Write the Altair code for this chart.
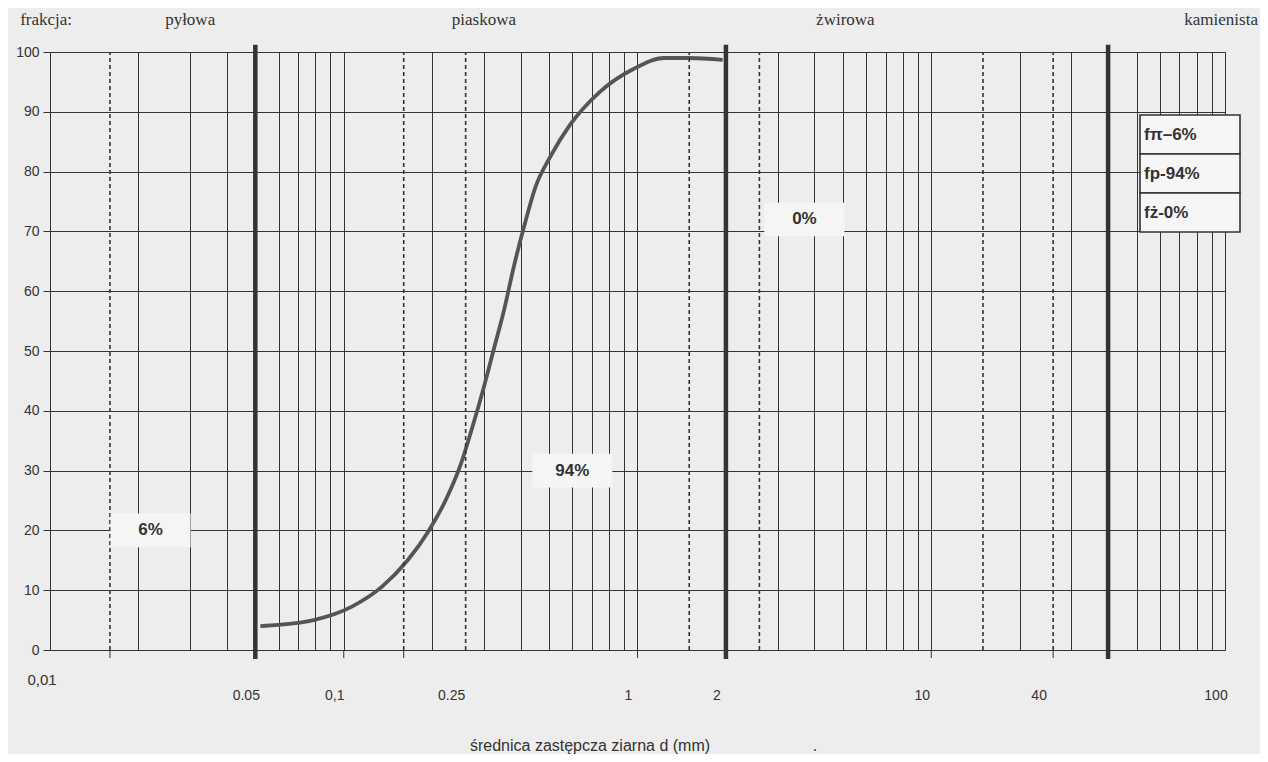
import altair as alt
import pandas as pd

# ---------------- data ----------------
curve_d = [0.052, 0.060, 0.079, 0.107, 0.135, 0.165, 0.195, 0.222, 0.25, 0.275,
           0.30, 0.325, 0.352, 0.378, 0.411, 0.45, 0.505, 0.589, 0.743, 0.972,
           1.23, 1.5, 1.95]
curve_p = [4.0, 4.2, 5.0, 7.3, 10.6, 15.0, 20.0, 25.0, 31.0, 37.5,
           44.0, 50.5, 57.0, 63.8, 70.8, 77.5, 82.5, 87.8, 93.3, 97.2,
           99.0, 99.0, 98.7]

grid_solid = [0.01, 0.02, 0.03, 0.04, 0.05, 0.06, 0.07, 0.08, 0.09,
              0.1, 0.2, 0.3, 0.4, 0.5, 0.6, 0.7, 0.8, 0.9,
              1, 2, 3, 4, 5, 6, 7, 8, 9,
              10, 20, 30, 40, 50, 60, 70, 80, 90, 100]
grid_dashed = [0.016, 0.16, 0.26, 1.5, 2.6, 15, 26]
fraction_limits = [0.05, 2, 40]
small_ticks = [0.016, 0.1, 0.16, 1, 2, 10, 26]

y_ticks = [0, 10, 20, 30, 40, 50, 60, 70, 80, 90, 100]

tick_text = ["0.05", "0,1", "0.25", "1", "2", "10", "40", "100"]
tick_anchor = [0.05, 0.1, 0.25, 1, 2, 10, 25, 100]
first_tick_text = ["0,01"]
first_tick_anchor = [0.01]

header_text = ["frakcja:", "pyłowa", "piaskowa", "żwirowa", "kamienista"]
header_anchor = [0.0097, 0.03, 0.3, 5.1, 97]

share_text = ["6%", "94%", "0%"]
share_d = [0.022, 0.6, 3.7]
share_p = [20, 30, 72]

legend_text = ["fπ–6%", "fp-94%", "fż-0%"]

x_title = "średnica zastępcza ziarna d (mm)"

# ---------------- layout ----------------
W, H = 1175, 598
INK = "#333333"
BG = "#ededed"
BOX = "#f5f5f5"
SANS = "Liberation Sans"
SERIF = "Liberation Serif"

xs = alt.Scale(type="log", domain=[0.01, 100], nice=False)
ys = alt.Scale(domain=[0, 100], nice=False)
xaxis = alt.Axis(values=grid_solid, grid=True, gridColor=INK, gridWidth=1, gridOpacity=1,
                 labels=False, ticks=False, domain=False, title=None)
yaxis = alt.Axis(values=y_ticks, grid=True, gridColor=INK, gridWidth=1, gridOpacity=1,
                 domain=False, tickSize=7, tickColor=INK, labelFont=SANS, labelFontSize=14,
                 labelColor=INK, labelPadding=4, title=None)


def X(f="d"):
    return alt.X(f"{f}:Q", scale=xs, axis=xaxis)


def Y(f="p"):
    return alt.Y(f"{f}:Q", scale=ys, axis=yaxis)


curve_df = pd.DataFrame({"d": curve_d, "p": curve_p})
curve = alt.Chart(curve_df).mark_line(color="#555555", strokeWidth=3.8,
                                      interpolate="monotone").encode(x=X(), y=Y())

dashed = alt.Chart(pd.DataFrame({"d": grid_dashed})).mark_rule(
    color=INK, strokeWidth=1.6, strokeDash=[4, 3]).encode(
    x=X(), y=alt.datum(0, scale=ys), y2=alt.datum(100))

thick = alt.Chart(pd.DataFrame({"d": fraction_limits})).mark_rule(
    color=INK, strokeWidth=4.5).encode(
    x=X(), y=alt.datum(-1.5, scale=ys), y2=alt.datum(101.2))

ticks = alt.Chart(pd.DataFrame({"d": small_ticks})).mark_rule(
    color=INK, strokeWidth=1).encode(x=X(), y=alt.value(H), y2=alt.value(H + 8))

share_df = pd.DataFrame({"t": share_text, "d": share_d, "p": share_p})
share_box = alt.Chart(share_df).mark_point(
    shape="M-1,-0.42H1V0.42H-1Z", filled=True, fill=BOX, opacity=1, size=6400,
    strokeWidth=0).encode(x=X(), y=Y())
share_lbl = alt.Chart(share_df).mark_text(
    font=SANS, fontSize=17, fontWeight="bold", color=INK).encode(x=X(), y=Y(), text="t:N")

header = alt.Chart(pd.DataFrame({"t": header_text, "d": header_anchor})).mark_text(
    font=SERIF, fontSize=17, color=INK, baseline="middle").encode(
    x=X(), y=alt.value(-32), text="t:N")

tick_lbl = alt.Chart(pd.DataFrame({"t": tick_text, "d": tick_anchor})).mark_text(
    font=SANS, fontSize=14, color=INK, dx=-9, baseline="middle").encode(
    x=X(), y=alt.value(H + 46), text="t:N")
tick_lbl0 = alt.Chart(pd.DataFrame({"t": first_tick_text, "d": first_tick_anchor})).mark_text(
    font=SANS, fontSize=15, color=INK, dx=-8, baseline="middle").encode(
    x=X(), y=alt.value(H + 30), text="t:N")

title = alt.Chart(pd.DataFrame({"t": [x_title]})).mark_text(
    font=SANS, fontSize=16, color=INK, baseline="middle").encode(
    x=alt.value(540), y=alt.value(H + 96), text="t:N")
dot = alt.Chart(pd.DataFrame({"t": ["."]})).mark_text(
    font=SANS, fontSize=16, color=INK, baseline="middle").encode(
    x=alt.value(765), y=alt.value(H + 96), text="t:N")

legend_layers = []
for i, t in enumerate(legend_text):
    row = pd.DataFrame({"t": [t]})
    legend_layers.append(alt.Chart(row).mark_rect(fill="#f6f6f6", stroke=INK, strokeWidth=1.6).encode(
        x=alt.value(1090), x2=alt.value(1190),
        y=alt.value(63 + 39 * i), y2=alt.value(102 + 39 * i)))
    legend_layers.append(alt.Chart(row).mark_text(
        font=SANS, fontSize=17, fontWeight="bold", color=INK, align="left", baseline="middle").encode(
        x=alt.value(1094), y=alt.value(83 + 39 * i), text="t:N"))

chart = alt.layer(
    curve, dashed, ticks, thick, share_box, share_lbl, header, tick_lbl, tick_lbl0,
    title, dot, *legend_layers
).properties(
    width=W, height=H,
    autosize=alt.AutoSizeParams(type="none"),
    padding={"left": 42, "top": 44, "right": 35, "bottom": 104},
    background=BG,
).configure_view(stroke=None)

chart.save("out.html", embed_options={"renderer": "svg", "actions": False})
